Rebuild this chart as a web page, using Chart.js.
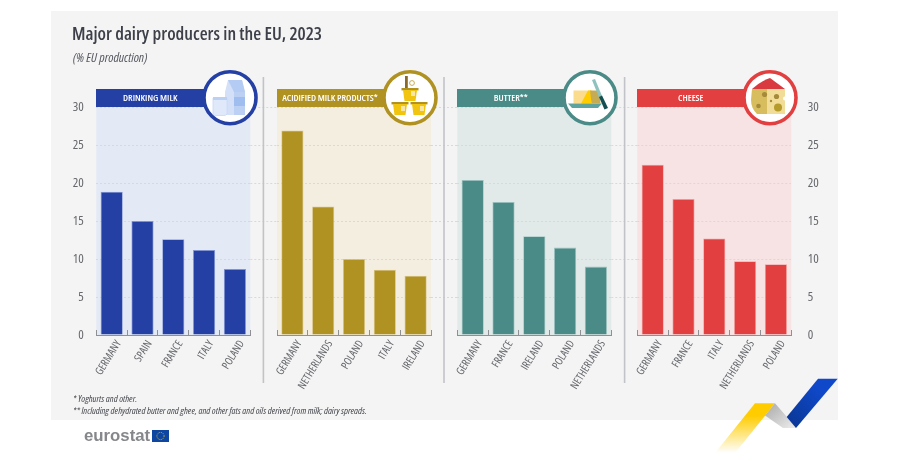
<!DOCTYPE html>
<html><head><meta charset="utf-8">
<script src="https://cdn.jsdelivr.net/npm/chart.js@4"></script>
<style>
html,body{margin:0;padding:0;background:#fff;width:900px;height:462px;overflow:hidden}
#bg{position:absolute;left:51px;top:11px;width:787px;height:409px;background:#f4f4f4}
canvas{position:absolute;left:0;top:0}
.t{position:absolute;white-space:nowrap;font-family:"Open Sans",sans-serif;font-stretch:condensed}
.h{position:absolute;top:88.7px;height:18.6px;line-height:18.6px;color:#fff;font-family:"Open Sans",sans-serif;font-stretch:condensed;font-size:9.5px;font-weight:600;text-align:center;white-space:nowrap}
svg{position:absolute;left:0;top:0}
</style></head><body>
<div id="bg"></div>
<canvas id="c0"></canvas><canvas id="c1"></canvas><canvas id="c2"></canvas><canvas id="c3"></canvas>
<div id="heads"></div>
<svg width="900" height="462" viewBox="0 0 900 462">
<defs>
<linearGradient id="gy" x1="0" y1="0" x2="0" y2="1"><stop offset="0.25" stop-color="#ffcc00"/><stop offset="1" stop-color="#ffcc00" stop-opacity="0"/></linearGradient>
<linearGradient id="gg" x1="0" y1="0" x2="1" y2="1"><stop offset="0" stop-color="#a8a8a8"/><stop offset="1" stop-color="#eeeeee"/></linearGradient>
<linearGradient id="gb" x1="1" y1="0" x2="0" y2="1"><stop offset="0.3" stop-color="#0f48c8"/><stop offset="1" stop-color="#0a3590"/></linearGradient>
</defs>
<g stroke="#c2c3c8" stroke-width="1.6"><line x1="263.4" y1="77" x2="263.4" y2="383"/><line x1="444" y1="77" x2="444" y2="383"/><line x1="624.6" y1="77" x2="624.6" y2="383"/></g>
<!-- milk -->
<circle cx="230" cy="97.7" r="26" fill="#fff" stroke="#2440a5" stroke-width="3.6"/>
<path d="M225 92l3-12h14l3 12v23h-20z" fill="#d3e0f7"/><path d="M234 92h11v23h-11z" fill="#bcd0f4"/><path d="M234 97h11v9h-11z" fill="#a0bdf0"/><path d="M228 80h14l3 12h-11z" fill="#b4cbf3"/>
<path d="M213 98h14v16q-1 1.5-3 1.5h-8q-2 0-3-1.5z" fill="#dfe9fa" stroke="#c8d8f5" stroke-width=".8"/><rect x="213" y="97" width="14" height="3" fill="#bcd0f4"/>
<!-- yoghurt -->
<circle cx="410" cy="97.7" r="26" fill="#fff" stroke="#b09222" stroke-width="3.6"/>
<rect x="405" y="76" width="2.8" height="13" fill="#8a6a2a"/><circle cx="412" cy="83" r="2.4" fill="none" stroke="#c9ad55" stroke-width="1"/>
<g fill="#f1c40f"><rect x="401.5" y="88" width="17" height="2.4" fill="#b09222"/><path d="M403 90h14l-1.5 11h-11z"/><rect x="391.5" y="102" width="17" height="2.4" fill="#b09222"/><path d="M393 104h14l-1.5 11h-11z"/><rect x="410.5" y="102" width="17" height="2.4" fill="#b09222"/><path d="M412 104h14l-1.5 11h-11z"/></g>
<g fill="#f7e6a5"><rect x="411" y="91" width="4" height="5"/><rect x="401" y="106" width="4" height="5"/><rect x="420" y="106" width="4" height="5"/></g>
<!-- butter -->
<circle cx="590" cy="97.7" r="26" fill="#fff" stroke="#4b8b87" stroke-width="3.6"/>
<rect x="573.5" y="90.5" width="17" height="13" fill="#fbdc8c"/><path d="M581 103.500l7-13h3.500v13z" fill="#ffcc00"/><path d="M590 90.500h9l1.500 13h-9z" fill="#c6ab55"/>
<path d="M568 103.500h34l-4 4.500h-26z" fill="#5ea39e"/>
<path d="M592 80l3-1 7 17-3 1.500z" fill="#8ec2bd"/><path d="M599 97l3-1.500 6 12.500-3.500 1.500z" fill="#124f52"/>
<!-- cheese -->
<circle cx="770" cy="97.7" r="26" fill="#fff" stroke="#e24040" stroke-width="3.6"/>
<path d="M752 89q9-8 18-11l15 11z" fill="#d93a3f"/>
<path d="M752 89h15v25h-10q-6-6-6-14z" fill="#d8bd5e"/><path d="M767 89h18v25h-18z" fill="#f2dd98"/>
<g fill="#a58a3c"><circle cx="764.500" cy="94.500" r="2.600"/><circle cx="776.500" cy="96.500" r="2.600"/><circle cx="758.500" cy="106" r="2.300"/><circle cx="771" cy="101" r="1.200"/></g><circle cx="778" cy="107.500" r="4" fill="#b59a2c"/><circle cx="785" cy="98.500" r="2" fill="#fff"/>
<!-- ribbon -->
<polygon points="755,403.300 775,403.300 735,453 715,453" fill="url(#gy)"/>
<polygon points="775,403.300 796.500,428 783,428 765,415.500" fill="url(#gg)"/>
<polygon points="818,378.700 837.700,378.700 796,428 786.700,417" fill="url(#gb)"/>
<!-- flag -->
<rect x="152" y="430" width="17" height="12" fill="#0e47a1"/><circle cx="160.500" cy="436" r="3.600" fill="none" stroke="#c9b33a" stroke-width="1" stroke-dasharray="1 .9"/>
</svg>
<div class="t" style="left:72px;top:21px;font-size:18.200px;font-weight:600;color:#3d4049">Major dairy producers in the EU, 2023</div>
<div class="t" style="left:73px;top:48px;font-size:13px;font-stretch:87%;font-style:italic;color:#55585f">(% EU production)</div>
<div class="t" style="left:73px;top:391.500px;font-size:9.500px;font-style:italic;color:#44464c">* Yoghurts and other.</div>
<div class="t" style="left:73px;top:403.500px;font-size:9.500px;font-style:italic;color:#44464c">** Including dehydrated butter and ghee, and other fats and oils derived from milk; dairy spreads.</div>
<div class="t" style="left:84px;top:426px;font-family:'Liberation Sans',sans-serif;font-stretch:normal;font-size:16.800px;line-height:20px;font-weight:bold;color:#85878b">eurostat</div>
<script>
const yTicks = [0, 5, 10, 15, 20, 25, 30];
const drinkingCountries = ["GERMANY", "SPAIN", "FRANCE", "ITALY", "POLAND"];
const drinkingValues = [18.85, 15.0, 12.6, 11.2, 8.7];
const acidifiedCountries = ["GERMANY", "NETHERLANDS", "POLAND", "ITALY", "IRELAND"];
const acidifiedValues = [26.9, 16.9, 10.0, 8.6, 7.8];
const butterCountries = ["GERMANY", "FRANCE", "IRELAND", "POLAND", "NETHERLANDS"];
const butterValues = [20.4, 17.5, 13.0, 11.5, 9.0];
const cheeseCountries = ["GERMANY", "FRANCE", "ITALY", "NETHERLANDS", "POLAND"];
const cheeseValues = [22.4, 17.9, 12.7, 9.7, 9.3];
const panelTitles = ["DRINKING MILK", "ACIDIFIED MILK PRODUCTS*", "BUTTER**", "CHEESE"];

const FONT = '"Open Sans",sans-serif';
const panels = [
 {title:panelTitles[0],labels:drinkingCountries,values:drinkingValues,left:96.3,bar:'#2440a5',edge:'#8a9bd8',fill:'#e3eaf5',axis:'left'},
 {title:panelTitles[1],labels:acidifiedCountries,values:acidifiedValues,left:277,bar:'#b09222',edge:'#d9c888',fill:'#f4eee1'},
 {title:panelTitles[2],labels:butterCountries,values:butterValues,left:457.3,bar:'#4b8b87',edge:'#9dc4c1',fill:'#e1eae9'},
 {title:panelTitles[3],labels:cheeseCountries,values:cheeseValues,left:637.3,bar:'#e24040',edge:'#f2a0a0',fill:'#f7e3e3',axis:'right'}
];
const W = 154, TOP = 107, BOTTOM = 335, AXW = 30, XH = 90;

const panelBg = {
  id:'panelBg',
  beforeDraw(chart, args, o){
    const {ctx, chartArea:a, scales:{y}} = chart;
    ctx.save();
    ctx.fillStyle = o.fill;
    ctx.fillRect(a.left, a.top, a.width, a.height);
    if (o.gap) {
      ctx.strokeStyle = '#d9d9d9'; ctx.lineWidth = 1; ctx.setLineDash([2,2]);
      yTicks.slice(1).forEach(v => {
        const p = Math.round(y.getPixelForValue(v)) + .5;
        ctx.beginPath(); ctx.moveTo(a.right, p); ctx.lineTo(a.right + o.gap, p); ctx.stroke();
      });
    }
    ctx.restore();
  }
};

document.fonts.load('condensed 11px "Open Sans"').finally(() => panels.forEach((p, i) => {
  const cv = document.getElementById('c' + i);
  cv.width = 900; cv.height = 462;
  const side = p.axis;
  new Chart(cv, {
    type:'bar',
    data:{labels:p.labels, datasets:[{data:p.values, backgroundColor:p.bar, borderColor:p.edge, borderWidth:.8, barPercentage:.72, categoryPercentage:1}]},
    plugins:[panelBg],
    options:{
      responsive:false, animation:false, events:[],
      layout:{padding:{
        left:p.left - (side==='left'?AXW:0),
        right:900 - p.left - W - (side==='right'?AXW:0),
        top:TOP, bottom:462 - BOTTOM - XH}},
      plugins:{legend:{display:false}, tooltip:{enabled:false}, title:{display:false},
        panelBg:{fill:p.fill, gap: i<3 ? panels[i+1].left - p.left - W : 0}},
      scales:{
        x:{
          grid:{display:true, drawOnChartArea:false, drawTicks:true, tickLength:-5, color:'#8f9094', lineWidth:1},
          border:{display:true, color:'#8f9094', width:1},
          ticks:{autoSkip:false, minRotation:58, maxRotation:58, padding:8, labelOffset:7, color:'#66686d', font:{family:FONT, weight:'condensed', size:11}},
          afterFit(s){ s.height = XH; s.paddingLeft = 0; s.paddingRight = 0; }
        },
        y:{
          display:true, position: side==='right' ? 'right' : 'left',
          min:0, max:30,
          afterBuildTicks(s){ s.ticks = yTicks.map(v => ({value:v})); },
          grid:{color:'#d9d9d9', lineWidth:1, drawTicks:false},
          border:{display:false, dash:[2,2]},
          ticks:{display:!!side, padding: side==='right'?16.5:12.5, color:'#66686d', font:{family:FONT, weight:'condensed', size:13}},
          afterFit(s){ s.width = side ? AXW : 0; }
        }
      }
    }
  });
  const h = document.createElement('div');
  h.className = 'h';
  h.style.left = p.left + 'px';
  h.style.width = (W - 20) + 'px';
  h.style.background = p.bar;
  const c = {0:108,1:106,2:107,3:107}[i];
  h.innerHTML = '<span style="position:absolute;left:0;width:'+c+'px;text-align:center">' + p.title + '</span>';
  document.getElementById('heads').appendChild(h);
}));
</script>
</body></html>
